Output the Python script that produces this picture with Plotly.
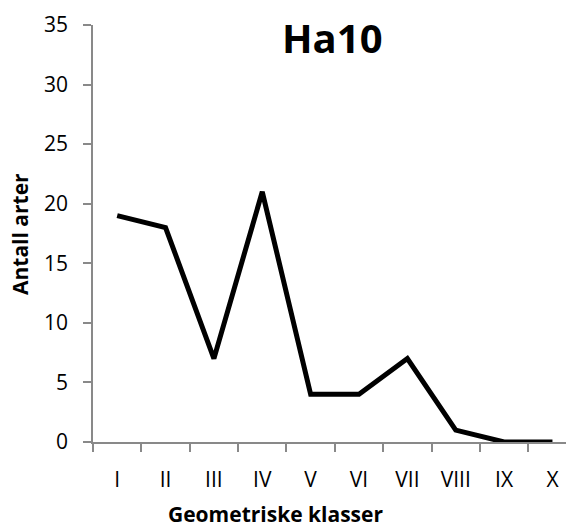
import plotly.graph_objects as go

categories = ["I", "II", "III", "IV", "V", "VI", "VII", "VIII", "IX", "X"]
values = [19, 18, 7, 21, 4, 4, 7, 1, 0, 0]
y_ticks = [0, 5, 10, 15, 20, 25, 30, 35]

FONT = "Open Sans"
L, R, T, B = 93, 0, 25, 85
W, H = 566, 527

fig = go.Figure()
fig.add_trace(go.Scatter(
    x=categories, y=values, mode="lines",
    line=dict(color="black", width=5),
    cliponaxis=False, showlegend=False, hoverinfo="skip",
))

fig.update_layout(
    width=W, height=H,
    margin=dict(l=L, r=R, t=T, b=B),
    paper_bgcolor="white", plot_bgcolor="white",
    font=dict(family=FONT, color="black", size=21),
    xaxis=dict(
        type="category", range=[-0.5, 9.28],
        showline=True, linecolor="#898989", linewidth=1.5,
        ticks="outside", tickson="boundaries", ticklen=8, tickcolor="#898989", tickwidth=1.5,
        showgrid=False, zeroline=False, ticklabelstandoff=18,
        tickfont=dict(family=FONT, size=21),
    ),
    yaxis=dict(
        range=[0, 35], tickvals=y_ticks,
        showline=True, linecolor="#898989", linewidth=1.5,
        ticks="outside", ticklen=8, tickcolor="#898989", tickwidth=1.5,
        showgrid=False, zeroline=False, ticklabelstandoff=11,
        tickfont=dict(family=FONT, size=21),
    ),
)

plot_w = W - L - R
plot_h = H - T - B
def px_to_paper(px, py):
    return (px - L) / plot_w, (H - B - py) / plot_h

def add_label(text, px, py, size, angle=0):
    x, y = px_to_paper(px, py)
    fig.add_annotation(text=text, x=x, y=y, xref="paper", yref="paper",
                       xanchor="center", yanchor="middle", showarrow=False,
                       textangle=angle, font=dict(family=FONT, size=size, color="black"))

add_label("<b>Ha10</b>", 332, 37, 40)
add_label("<b>Geometriske klasser</b>", 275, 514, 21)
add_label("<b>Antall arter</b>", 20, 234, 21, angle=-90)

fig.write_html("out.html", config={"displayModeBar": False},
               post_script="document.body.style.margin='0px';")
